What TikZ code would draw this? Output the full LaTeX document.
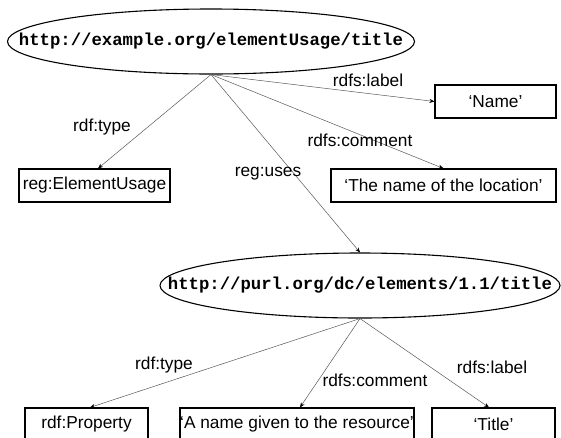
\documentclass[tikz,border=0pt]{standalone}
\usepackage{fontspec}
\setmainfont{Liberation Sans}
\setmonofont{Liberation Mono}
\usetikzlibrary{shapes.geometric,arrows.meta}
\begin{document}
\begin{tikzpicture}[x=1pt,y=-1pt,
  uri/.style={ellipse,draw,line width=1.1pt,inner sep=0pt,
    font=\fontsize{17.3}{20}\selectfont\ttfamily\bfseries},
  lit/.style={rectangle,draw,line width=1.1pt,inner sep=0pt,minimum height=33pt,
    font=\fontsize{17.3}{20}\selectfont},
  lbl/.style={inner sep=0pt,font=\fontsize{17.3}{20}\selectfont},
  rel/.style={draw=black!65,line width=0.5pt,-{Stealth[length=5pt,width=4pt,black]}}]
\useasboundingbox (0,0) rectangle (561,437);
\clip (0,0) rectangle (561,437);
\fill[white] (0,0) rectangle (561,437);
% resources
\node[uri,minimum width=407pt,minimum height=65pt] (top) at (211,41.5)
  {\makebox[0pt][c]{http://example.org/elementUsage/title}};
\node[uri,minimum width=400pt,minimum height=65pt] (bot) at (360,285.5)
  {\makebox[0pt][c]{http://purl.org/dc/elements/1.1/title}};
% literals / classes
\node[lit,minimum width=151pt] (eu) at (94.5,185.5) {reg:ElementUsage};
\node[lit,minimum width=121pt] (name) at (495.5,101.5) {‘Name’};
\node[lit,minimum width=225pt] (loc) at (443.5,185.5) {‘The name of the location’};
\node[lit,minimum width=123pt] (prop) at (86.5,424.5) {rdf:Property};
\node[lit,minimum width=234pt] (agiven) at (297,424.5) {‘A name given to the resource’};
\node[lit,minimum width=123pt] (title) at (493.5,424.5) {‘Title’};
% edges
\draw[rel] (top.south) -- ([xshift=3.5pt]eu.north);
\draw[rel] (top.south) -- (name.west);
\draw[rel] (top.south) -- (loc.north);
\draw[rel] (top.south) -- (bot.north);
\draw[rel] (bot.south) -- ([xshift=3.5pt]prop.north);
\draw[rel] (bot.south) -- ([xshift=3pt]agiven.north);
\draw[rel] (bot.south) -- ([xshift=-4.5pt]title.north);
% edge labels
\node[lbl] (l1) at (102,127) {rdf:type};
\node[lbl] (l2) at (368,80) {rdfs:label};
\node[lbl] (l3) at (360,140) {rdfs:comment};
\node[lbl] (l4) at (268,174) {reg:uses};
\node[lbl] (l5) at (164,365) {rdf:type};
\node[lbl] (l6) at (375,380) {rdfs:comment};
\node[lbl] (l7) at (492,367) {rdfs:label};
\end{tikzpicture}
\end{document}
